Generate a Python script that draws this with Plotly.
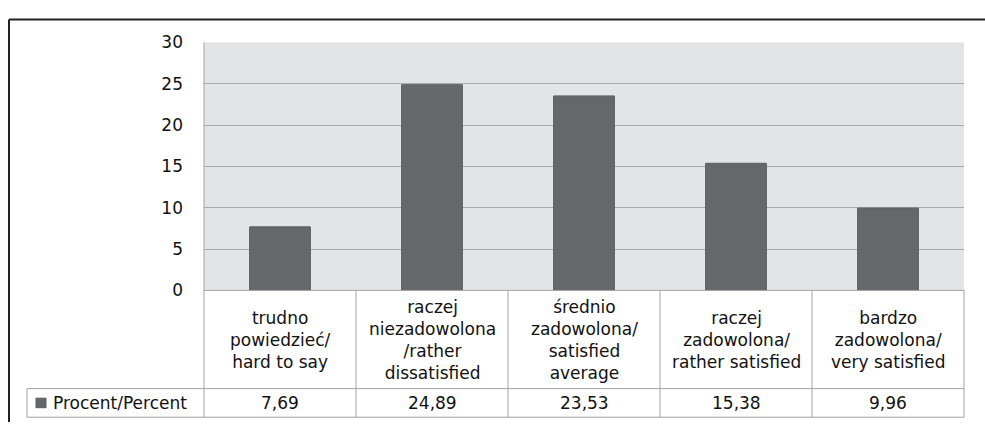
import plotly.graph_objects as go

# Satisfaction survey answers with their share of respondents
categories = [
    "trudno<br>powiedzieć/<br>hard to say",
    "raczej<br>niezadowolona<br>/rather<br>dissatisfied",
    "średnio<br>zadowolona/<br>satisfied<br>average",
    "raczej<br>zadowolona/<br>rather satisfied",
    "bardzo<br>zadowolona/<br>very satisfied",
]
percent = [7.69, 24.89, 23.53, 15.38, 9.96]
series_name = "Procent/Percent"
y_ticks = [0, 5, 10, 15, 20, 25, 30]

W, H = 985, 432
BAR = "#65686a"
GRID = "#aaaaaa"
BORDER = "#a3a3a3"
FONT = "DejaVu Sans"
TEXT = "#111111"


def px(x):
    return x / W


def py(y):
    return 1 - y / H


# plot area in pixels
left, right, top, bottom = 204, 964, 34, 294
row1_bottom, row2_bottom, legend_left = 397, 427, 27

fig = go.Figure(
    go.Bar(
        x=list(range(len(percent))),
        y=percent,
        marker=dict(color=BAR, line=dict(color="#5c5f61", width=1)),
        name=series_name,
        hoverinfo="y",
    )
)

n = len(categories)
shapes = []
line = dict(color=BORDER, width=1)

# data table: header row with category names, then the value row
shapes.append(dict(type="line", xref="paper", yref="paper",
                   x0=px(left), x1=px(right), y0=py(bottom), y1=py(bottom), line=line))
for yy in (row1_bottom, row2_bottom):
    shapes.append(dict(type="line", xref="paper", yref="paper",
                       x0=px(legend_left), x1=px(right), y0=py(yy), y1=py(yy), line=line))
for i in range(n + 1):
    xx = left + (right - left) * i / n
    shapes.append(dict(type="line", xref="paper", yref="paper",
                       x0=px(xx), x1=px(xx), y0=py(top if i == 0 else bottom),
                       y1=py(row2_bottom), line=line))
shapes.append(dict(type="line", xref="paper", yref="paper",
                   x0=px(legend_left), x1=px(legend_left),
                   y0=py(row1_bottom), y1=py(row2_bottom), line=line))

# legend key inside the table
shapes.append(dict(type="rect", xref="paper", yref="paper",
                   x0=px(36), x1=px(46), y0=py(407), y1=py(417),
                   fillcolor=BAR, line=dict(color="#5c5f61", width=1)))

# outer chart frame
shapes.append(dict(type="line", xref="paper", yref="paper",
                   x0=px(9), x1=1.0, y0=py(10), y1=py(10),
                   line=dict(color="#222222", width=2)))
shapes.append(dict(type="line", xref="paper", yref="paper",
                   x0=px(9), x1=px(9), y0=py(10), y1=0.0,
                   line=dict(color="#222222", width=2)))

annotations = []
for i, (cat, val) in enumerate(zip(categories, percent)):
    annotations.append(dict(
        x=i, xref="x", y=py((bottom + row1_bottom) / 2 + 1), yref="paper",
        text=cat, showarrow=False, align="center", yanchor="middle",
        font=dict(family=FONT, size=17, color=TEXT),
    ))
    annotations.append(dict(
        x=i, xref="x", y=py((row1_bottom + row2_bottom) / 2), yref="paper",
        text=f"{val:.2f}".replace(".", ","), showarrow=False, yanchor="middle",
        font=dict(family=FONT, size=17, color=TEXT),
    ))
annotations.append(dict(
    x=px(51), xref="paper", y=py((row1_bottom + row2_bottom) / 2), yref="paper",
    text=series_name, showarrow=False, xanchor="left", yanchor="middle",
    font=dict(family=FONT, size=17, color=TEXT),
))

fig.update_layout(
    width=W, height=H,
    margin=dict(l=0, r=0, t=0, b=0),
    paper_bgcolor="white",
    plot_bgcolor="#e3e4e6",
    showlegend=False,
    bargap=0.6,
    shapes=shapes,
    annotations=annotations,
    xaxis=dict(domain=[px(left), px(right)], range=[-0.5, n - 0.5],
               showticklabels=False, showgrid=False, zeroline=False, fixedrange=True),
    yaxis=dict(domain=[py(bottom), py(top)], range=[0, 30],
               tickvals=y_ticks, ticks="", ticklabelstandoff=20,
               tickfont=dict(family=FONT, size=17, color=TEXT),
               showgrid=True, gridcolor=GRID, gridwidth=1,
               zeroline=False, showline=False, fixedrange=True),
)

# page without the default body margin so the chart fills the window exactly
fig.write_html(
    "out.html",
    config={"displayModeBar": False},
    post_script="document.body.style.margin='0';document.body.style.overflow='hidden';",
)
